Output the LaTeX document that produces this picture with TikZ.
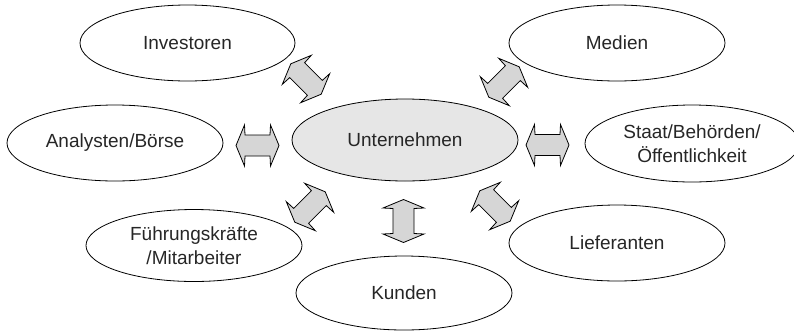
\documentclass[tikz,border=0pt]{standalone}
\usepackage{fontspec}
\setmainfont{Liberation Sans}
\usetikzlibrary{shapes.geometric}
\definecolor{arrowgray}{HTML}{D6D6D6}
\definecolor{centergray}{HTML}{E6E6E6}
\definecolor{txt}{HTML}{262626}
\tikzset{
  ell/.style={draw=black, line width=0.8pt, ellipse, inner sep=0pt, align=center,
    text=txt, font=\fontsize{19}{24}\selectfont, minimum width=216pt, minimum height=76pt},
  arrowshape/.style={draw=black, line width=0.8pt, fill=arrowgray, line join=miter},
  barrow/.pic={\draw[arrowshape] (-21.5,0) -- (-13,-20.5) -- (-12.5,-10.5) -- (12.5,-10.5) -- (13,-20.5)
     -- (21.5,0) -- (13,20.5) -- (12.5,10.5) -- (-12.5,10.5) -- (-13,20.5) -- cycle;}
}
\begin{document}
\begin{tikzpicture}[x=1pt,y=-1pt]
\useasboundingbox (0,0) rectangle (794,330);
\node[ell, minimum width=215pt] (inv) at (187.5,43) {Investoren};
\node[ell] (med) at (617,43) {Medien};
\node[ell] (ana) at (115,143) {Analysten/Börse};
\node[ell, fill=centergray, minimum width=226pt, minimum height=82pt] (unt) at (405,140) {Unternehmen};
\node[ell, minimum width=214pt, minimum height=77pt] (sta) at (692,143.5) {Staat/Behörden/\\Öffentlichkeit};
\node[ell, minimum height=72pt] (fue) at (194,245.5) {Führungskräfte\\/Mitarbeiter};
\node[ell] (lie) at (617,243) {Lieferanten};
\node[ell, minimum height=74pt] (kun) at (404,293) {Kunden};
\pic at (257.5,145.5) {barrow};
\pic at (547.5,145) {barrow};
\pic[rotate=90] at (403.5,221) {barrow};
\pic[rotate=-45] at (306,79) {barrow};
\pic[rotate=45] at (504,82) {barrow};
\pic[rotate=45] at (310,207) {barrow};
\pic[rotate=-45] at (495,206) {barrow};
\end{tikzpicture}
\end{document}
